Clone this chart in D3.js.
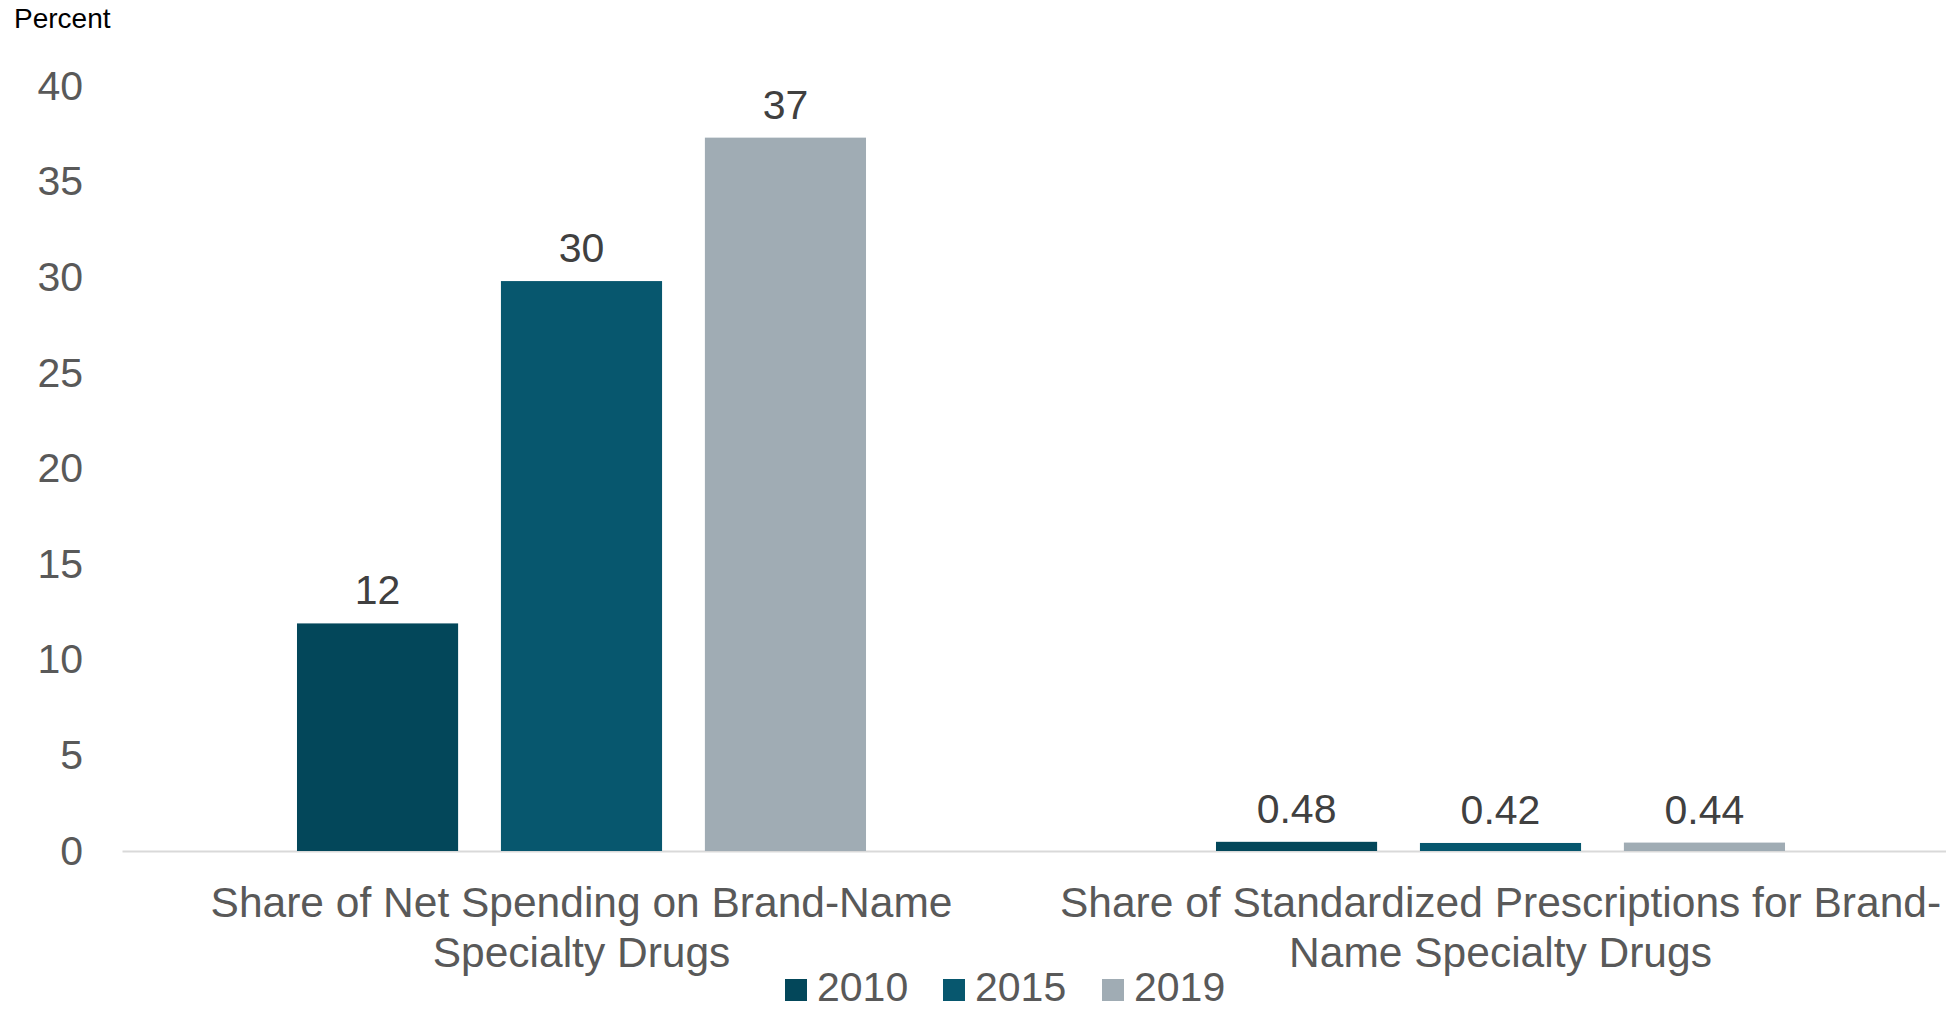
<!DOCTYPE html>
<html>
<head>
<meta charset="utf-8">
<script src="https://cdn.jsdelivr.net/npm/d3@7"></script>
<style>
  body { margin: 0; background: #fff; }
  svg { display: block; font-family: "Liberation Sans", Arial, sans-serif; }
</style>
</head>
<body>
<div id="chart"></div>
<script>
/* Chart data */
const categories = ["net", "rx"];
const categoryLabels = [
  ["Share of Net Spending on Brand-Name", "Specialty Drugs"],
  ["Share of Standardized Prescriptions for Brand-", "Name Specialty Drugs"]
];
const years = ["2010", "2015", "2019"];
const values2010 = [11.9, 0.48];
const values2015 = [29.8, 0.42];
const values2019 = [37.3, 0.44];
const yTicks = [0, 5, 10, 15, 20, 25, 30, 35, 40];

const colorList = ["#03475a", "#07576e", "#a0acb4"];

// build rows: one per category with a value for each year
const seriesValues = [values2010, values2015, values2019];
const data = categories.map((c, i) => ({
  category: c,
  lines: categoryLabels[i],
  bars: years.map((y, j) => ({ year: y, value: seriesValues[j][i] }))
}));

const width = 1946, height = 1010;
const margins = {top: 86, right: -14, bottom: 159, left: 122};

const svg = d3.select("#chart")
  .append("svg")
  .attr("width", width)
  .attr("height", height);

/* Scales */
const x0 = d3.scaleBand()
  .domain(categories)
  .range([margins.left, width - margins.right])
  .padding(0);

const x1 = d3.scaleBand()
  .domain(years)
  .range([0, x0.bandwidth()])
  .paddingInner(0.21)
  .paddingOuter(0.858);

const yScale = d3.scaleLinear()
  .domain([0, 40])
  .range([height - margins.bottom, margins.top]);

const colors = d3.scaleOrdinal().domain(years).range(colorList);

/* "Percent" unit label */
svg.append("text")
  .attr("x", 14)
  .attr("y", 28)
  .style("font-size", "28px")
  .style("fill", "#000")
  .text("Percent");

/* Y axis (labels only) */
svg.append("g")
  .attr("transform", `translate(${margins.left}, 0)`)
  .call(d3.axisLeft(yScale).tickValues(yTicks).tickSize(0).tickPadding(39))
  .call(g => g.select(".domain").remove())
  .call(g => g.selectAll("text")
    .style("font-size", "41px")
    .style("font-family", "'Liberation Sans', Arial, sans-serif")
    .style("fill", "#595959"));

/* X axis baseline and category labels */
const xGroup = svg.append("g")
  .attr("transform", `translate(0, ${yScale(0)})`)
  .call(d3.axisBottom(x0).tickSize(0).tickFormat(""));

xGroup.select(".domain")
  .attr("stroke", "#d9d9d9")
  .attr("stroke-width", 2);

svg.append("g")
  .selectAll("text")
  .data(data)
  .join("text")
    .attr("x", d => x0(d.category) + x0.bandwidth() / 2)
    .attr("y", 917)
    .attr("text-anchor", "middle")
    .style("font-size", "42.5px")
    .style("fill", "#595959")
  .selectAll("tspan")
  .data(d => d.lines)
  .join("tspan")
    .attr("x", function() { return this.parentNode.getAttribute("x"); })
    .attr("dy", (d, i) => i === 0 ? 0 : 50)
    .text(d => d);

/* Bars */
const groups = svg.append("g")
  .selectAll("g")
  .data(data)
  .join("g")
    .attr("transform", d => `translate(${x0(d.category)}, 0)`);

groups.selectAll("rect")
  .data(d => d.bars)
  .join("rect")
    .attr("x", d => x1(d.year))
    .attr("y", d => yScale(d.value))
    .attr("width", x1.bandwidth())
    .attr("height", d => yScale(0) - yScale(d.value))
    .attr("fill", d => colors(d.year));

/* Value labels */
const fmt = v => v < 1 ? d3.format(".2f")(v) : d3.format(".0f")(v);
groups.selectAll("text")
  .data(d => d.bars)
  .join("text")
    .attr("x", d => x1(d.year) + x1.bandwidth() / 2)
    .attr("y", d => yScale(d.value) - 19)
    .attr("text-anchor", "middle")
    .style("font-size", "41px")
    .style("fill", "#404040")
    .text(d => fmt(d.value));

/* Legend */
const legendX = [785, 943, 1102];
const legend = svg.append("g")
  .selectAll("g")
  .data(years)
  .join("g")
    .attr("transform", (d, i) => `translate(${legendX[i]}, 0)`);

legend.append("rect")
  .attr("x", 0)
  .attr("y", 979)
  .attr("width", 22)
  .attr("height", 22)
  .attr("fill", d => colors(d));

legend.append("text")
  .attr("x", 32)
  .attr("y", 1001)
  .style("font-size", "41px")
  .style("fill", "#595959")
  .text(d => d);
</script>
</body>
</html>
